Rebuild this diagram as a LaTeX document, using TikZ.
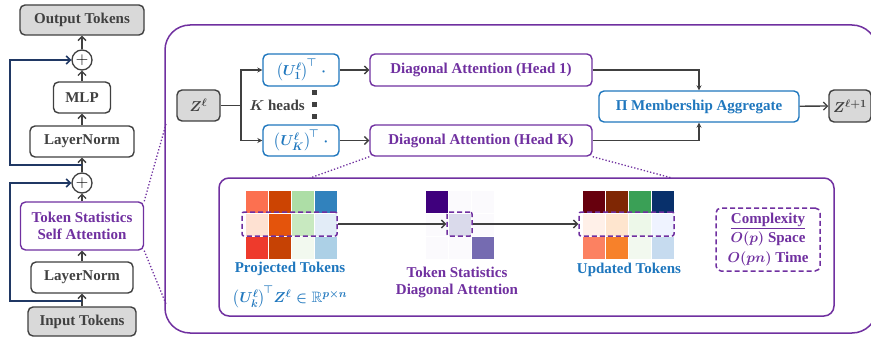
\documentclass[tikz,border=0pt]{standalone}
\usepackage{amsmath,amssymb,bm}
\usepackage{fontspec}
\setmainfont{Liberation Serif}
\usetikzlibrary{arrows.meta}
\definecolor{dgray}{HTML}{404040}
\definecolor{lgray}{HTML}{D9D9D9}
\definecolor{purp}{HTML}{7030A0}
\definecolor{blu}{RGB}{31,119,190}
\definecolor{navy}{HTML}{203864}
% projected
\definecolor{pa1}{RGB}{252,112,80}\definecolor{pa2}{RGB}{204,68,2}\definecolor{pa3}{RGB}{173,222,166}\definecolor{pa4}{RGB}{49,130,189}
\definecolor{pb1}{RGB}{254,225,210}\definecolor{pb2}{RGB}{228,84,12}\definecolor{pb3}{RGB}{200,233,192}\definecolor{pb4}{RGB}{226,236,247}
\definecolor{pc1}{RGB}{238,58,44}\definecolor{pc2}{RGB}{198,66,4}\definecolor{pc3}{RGB}{242,249,239}\definecolor{pc4}{RGB}{172,208,230}
% diagonal
\definecolor{da}{RGB}{63,0,125}\definecolor{db}{RGB}{218,218,235}\definecolor{dc}{RGB}{117,107,177}\definecolor{dw}{RGB}{251,250,253}
% updated
\definecolor{ua1}{RGB}{103,0,13}\definecolor{ua2}{RGB}{127,39,4}\definecolor{ua3}{RGB}{58,160,86}\definecolor{ua4}{RGB}{8,48,107}
\definecolor{ub1}{RGB}{255,240,232}\definecolor{ub2}{RGB}{254,229,206}\definecolor{ub3}{RGB}{237,248,233}\definecolor{ub4}{RGB}{239,243,255}
\definecolor{uc1}{RGB}{252,129,97}\definecolor{uc2}{RGB}{247,129,42}\definecolor{uc3}{RGB}{242,249,239}\definecolor{uc4}{RGB}{198,219,239}
\tikzset{
  lbox/.style={draw=dgray, line width=1.4pt, rounded corners=5pt, text=dgray, inner sep=0pt, align=center},
  gbox/.style={lbox, fill=lgray},
  pbox/.style={lbox, draw=purp, text=purp},
  bbox/.style={lbox, draw=blu, text=blu},
  conn/.style={draw=dgray, line width=1.3pt},
  barb/.style={conn, -{Straight Barb[length=4pt,width=8pt]}},
  tri/.style={conn, -{Stealth[length=5pt,width=5pt]}},
  skip/.style={draw=navy, line width=1.6pt, -{Straight Barb[length=4pt,width=8pt]}},
  dotln/.style={draw=purp, dotted, line width=1.3pt},
  sel/.style={draw=purp, dash pattern=on 5pt off 3pt, line width=1.5pt, rounded corners=2pt, inner sep=0pt},
  plusnode/.style={circle, draw=dgray, line width=1.3pt, minimum size=20pt, inner sep=0pt, font=\fontsize{16}{16}\selectfont},
  cell/.style={draw=white, line width=1pt}
}
\begin{document}
\begin{tikzpicture}[x=1pt,y=-1pt,font=\fontsize{15}{17}\selectfont\bfseries\boldmath]
\fill[white] (0,0) rectangle (871,337);
\useasboundingbox (0,0) rectangle (871,337);

% ---------- left column ----------
\node[gbox, minimum width=124pt, minimum height=30pt] (outp) at (82,20) {Output Tokens};
\node[plusnode] (plus1) at (82,60) {$+$};
\node[lbox, minimum width=57pt, minimum height=31pt] (mlp) at (82,97.5) {MLP};
\node[lbox, minimum width=104pt, minimum height=31pt] (ln1) at (82,141.5) {LayerNorm};
\node[plusnode] (plus2) at (82,183) {$+$};
\node[pbox, minimum width=123pt, minimum height=48pt] (tssa) at (82,226) {Token Statistics\\Self Attention};
\node[lbox, minimum width=102pt, minimum height=31pt] (ln2) at (82,277.5) {LayerNorm};
\node[gbox, minimum width=108pt, minimum height=29pt] (inp) at (82,321.5) {Input Tokens};

\draw[barb] (inp) -- (ln2);
\draw[barb] (ln2) -- (tssa);
\draw[barb] (tssa) -- (plus2);
\draw[barb] (plus2) -- (ln1);
\draw[barb] (ln1) -- (mlp);
\draw[barb] (mlp) -- (plus1);
\draw[barb] (plus1) -- (outp);
\coordinate (s1) at (82,301);
\coordinate (s2) at (82,165);
\draw[skip] (s1) -- ++(-72,0) |- (plus2.west);
\draw[skip] (s2) -- ++(-72,0) |- (plus1.west);

% ---------- big box ----------
\draw[purp, line width=1.5pt, rounded corners=25pt] (165,25) rectangle (877,333);
\coordinate (bt) at (166,124);
\coordinate (bb) at (166,304);
\draw[dotln] (tssa.north east) -- (bt);
\draw[dotln] (tssa.south east) -- (bb);

% ---------- heads ----------
\node[gbox, minimum width=43pt, minimum height=31pt] (z) at (198.5,105.5) {$\bm{Z}^{\ell}$};
\node[bbox, minimum width=76pt, minimum height=32pt] (u1) at (301,70) {$\big(\bm{U}_{\bm{1}}^{\ell}\big)^{\!\top}\;\cdot$};
\node[bbox, minimum width=76pt, minimum height=31pt] (uk) at (301,140.5) {$\big(\bm{U}_{\bm{K}}^{\ell}\big)^{\!\top}\;\cdot$};
\node[text=dgray, anchor=east, inner sep=0pt] (kh) at (305,105) {$\bm{K}$ heads};
\foreach \yy in {93,105,117} \fill[dgray] (311.5,\yy-2.5) rectangle ++(5,5);
\node[pbox, minimum width=222pt, minimum height=32pt] (da1) at (481,70) {Diagonal Attention (Head 1)};
\node[pbox, minimum width=222pt, minimum height=31pt] (dak) at (481,140.5) {Diagonal Attention (Head K)};
\node[bbox, minimum width=200pt, minimum height=31pt] (mem) at (699,106.5) {Π Membership Aggregate};
\node[gbox, minimum width=42pt, minimum height=32pt] (z1) at (850,106) {$\bm{Z}^{\ell+1}$};

\coordinate (br) at (241,105.5);
\draw[conn] (z.east) -- (br);
\draw[tri] (br) |- (u1.west);
\draw[tri] (br) |- (uk.west);
\draw[barb] (u1) -- (da1);
\draw[barb] (uk) -- (dak);
\draw[tri] (da1.east) -| (mem.north);
\draw[tri] (dak.east) -| (mem.south);
\draw[barb] (mem) -- (z1);

% ---------- inner box ----------
\draw[purp, line width=1.5pt, rounded corners=10pt] (219,178) rectangle (834,316);
\coordinate (it1) at (310,178);
\coordinate (it2) at (672,178);
\draw[dotln] (dak.south west) -- (it1);
\draw[dotln] (dak.south east) -- (it2);

% projected grid
\foreach \c/\r/\cl in {0/0/pa1,1/0/pa2,2/0/pa3,3/0/pa4,0/1/pb1,1/1/pb2,2/1/pb3,3/1/pb4,0/2/pc1,1/2/pc2,2/2/pc3,3/2/pc4}
  \fill[\cl] ({245+23*\c+0.5},{190+23*\r+0.5}) rectangle ++(22,22);
% diagonal grid
\foreach \c/\r/\cl in {0/0/da,1/0/dw,2/0/dw,0/1/dw,1/1/db,2/1/dw,0/2/dw,1/2/dw,2/2/dc}
  \fill[\cl] ({425+23*\c+0.5},{190+23*\r+0.5}) rectangle ++(22,22);
% updated grid
\foreach \c/\r/\cl in {0/0/ua1,1/0/ua2,2/0/ua3,3/0/ua4,0/1/ub1,1/1/ub2,2/1/ub3,3/1/ub4,0/2/uc1,1/2/uc2,2/2/uc3,3/2/uc4}
  \fill[\cl] ({582+23*\c+0.5},{190+23*\r+0.5}) rectangle ++(22,22);

\node[sel, minimum width=95pt, minimum height=24pt] (ps) at (289.5,224) {};
\node[sel, minimum width=25pt, minimum height=24pt] (ds) at (459.5,224) {};
\node[sel, minimum width=95pt, minimum height=24pt] (us) at (626.5,224) {};
\draw[barb] (ps) -- (ds);
\draw[barb] (ds) -- (us);

\node[text=blu, inner sep=0pt] (pl) at (290,269) {Projected Tokens};
\node[text=blu, inner sep=0pt] (pm) at (290,297) {$\big(\bm{U}_{\bm{k}}^{\ell}\big)^{\!\top}\bm{Z}^{\ell}\in\mathbb{R}^{\bm{p}\times\bm{n}}$};
\node[text=purp, inner sep=0pt, align=center] (dl) at (457,282) {Token Statistics\\Diagonal Attention};
\node[text=blu, inner sep=0pt] (ul) at (629,270) {Updated Tokens};
\node[sel, rounded corners=5pt, text=purp, align=center, minimum width=104pt, minimum height=63pt, font=\fontsize{15}{19.5}\selectfont\bfseries\boldmath] (cx) at (768,239.5)
  {\underline{Complexity}\\$O(p)$ Space\\$O(pn)$ Time};
\end{tikzpicture}
\end{document}
